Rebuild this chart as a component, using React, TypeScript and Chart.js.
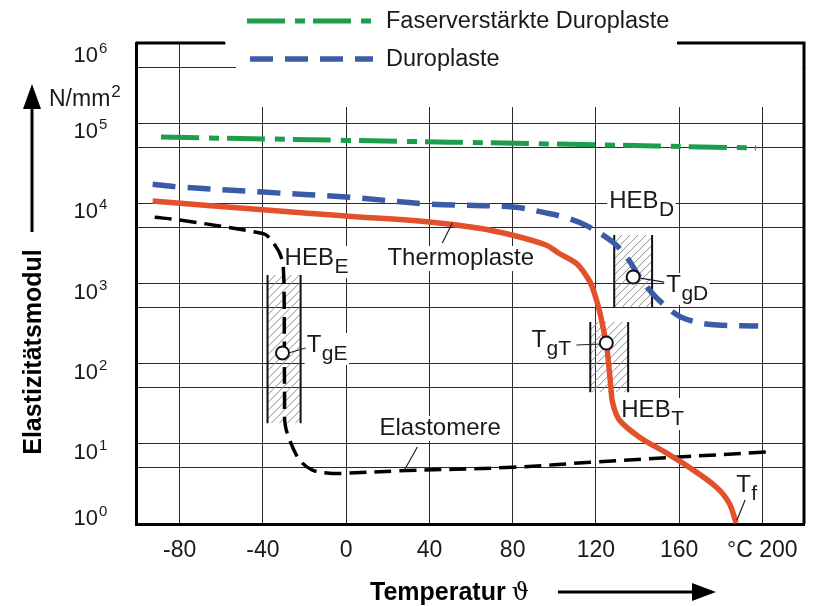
import React, { useEffect, useRef } from 'react';
import { Chart, registerables } from 'chart.js';

Chart.register(...registerables);

const FONT = '"Liberation Sans", Arial, Helvetica, sans-serif';

// ---------- axes ----------
const X_MIN = -101;
const X_MAX = 220;
const Y_MIN = 1;
const Y_MAX = 1e6;
const xTickValues = [-80, -40, 0, 40, 80, 120, 160, 200];
const xTickLabels = ['-80', '-40', '0', '40', '80', '120', '160', '°C 200'];
const yGridValues = [1, 5, 10, 50, 100, 500, 1e3, 5e3, 1e4, 5e4, 1e5, 5e5, 1e6];
const yLabelValues = [1, 10, 100, 1e3, 1e4, 1e5, 1e6];
const yLabelExponents = ['0', '1', '2', '3', '4', '5', '6'];

// ---------- series ----------
const seriesNames = ['Faserverstärkte Duroplaste', 'Duroplaste', 'Thermoplaste', 'Elastomere'];

const fdTemp = [-89, 0, 100, 197];
const fdModulus = [67000, 61000, 55000, 49000];

const duroTemp = [-93, -80, -40, 0, 40, 80, 96, 106, 116, 128, 135, 141, 147, 154, 161, 174, 198];
const duroModulus = [17300, 16000, 13800, 12000, 9800, 9000, 7600, 6600, 5200, 3300, 2100, 1200, 760, 510, 380, 310, 295];

const thermoTemp = [-93, -40, 0, 40, 64, 80, 96, 102, 110.6, 115.8, 118.2, 121.6, 124, 125.4, 127.2, 128, 131.2, 140.8, 153.8, 164.8, 177.8, 184, 187.4];
const thermoModulus = [10700, 8300, 6950, 5850, 4900, 4000, 3020, 2400, 1780, 1200, 910, 465, 240, 148, 51, 33, 20, 12.2, 7.7, 5.1, 2.9, 1.83, 1.03];

const elastTemp = [-92, -80, -40, -36.8, -34, -32, -30.6, -30.1, -29.8, -29.7, -29.6, -29.4, -27.2, -22.4, -16.2, -8, 0, 25, 80, 120, 160, 202];
const elastModulus = [6700, 6200, 4200, 3700, 2950, 2400, 1850, 1400, 620, 136, 35, 18, 11.2, 6.3, 4.7, 4.3, 4.3, 4.6, 5.1, 5.95, 6.85, 7.9];

// ---------- annotations (data coordinates) ----------
const hatchTempFrom = [-37.8, 128.8, 117.3];
const hatchTempTo = [-21.9, 147, 135.5];
const hatchModLow = [18, 510, 44];
const hatchModHigh = [1280, 4030, 331];

const tgTemp = [-30.6, 137.9, 125.0];
const tgModulus = [136, 1205, 181];

const labelMain = ['HEB', 'Thermoplaste', 'T', 'HEB', 'T', 'T', 'HEB', 'Elastomere', 'T'];
const labelSub = ['E', '', 'gE', 'D', 'gD', 'gT', 'T', '', 'f'];
const labelTemp = [-29.6, 19.8, -19.0, 126.4, 153.8, 89, 132.2, 16, 187.4];
const labelModulus = [1700, 1700, 140, 8730, 783, 161, 21.6, 12.9, 2.5];
const labelMasked = [true, true, true, true, true, false, true, true, false];

// leader lines: [t1, m1, t2, m2]
const leaders = [
  [46.2, 3200, 51.0, 5690],
  [28, 4.72, 34.2, 9.13],
  [187.8, 1.12, 191.7, 1.99],
  [-27.7, 136, -19.5, 157],
  [141.3, 1170, 152.8, 1043],
  [110.6, 171, 122.6, 176],
];

const COLORS = ['#1c9e4a', '#3a5ca6', '#e2502c', '#000000'];
const DASHES: number[][] = [[38, 10, 10, 8], [23, 12], [], [17, 8]];
const WIDTHS = [5, 5.5, 5.5, 3.5];

const MAIN_SIZE = 24;
const SUB_SIZE = 21;
const SUB_DROP = 8;

const toPoints = (xs: number[], ys: number[]) => xs.map((x, i) => ({ x, y: ys[i] }));

const annotationPlugin = {
  id: 'annotations',
  beforeDatasetsDraw(chart: any) {
    const { ctx, chartArea: ca, scales } = chart;
    const xs = scales.x;
    const ys = scales.y;
    ctx.save();
    // white area under the legend (breaks grid lines and frame)
    ctx.fillStyle = '#ffffff';
    ctx.fillRect(226, ca.top - 3, ca.right - 1.5 - 226, 6);
    ctx.fillRect(236, ca.top + 2, ca.right - 1.5 - 236, 62);

    // label masks
    labelMain.forEach((m, i) => {
      if (!labelMasked[i]) return;
      const X = xs.getPixelForValue(labelTemp[i]);
      const Y = ys.getPixelForValue(labelModulus[i]);
      ctx.font = `${MAIN_SIZE}px ${FONT}`;
      const w1 = ctx.measureText(m).width;
      ctx.font = `${SUB_SIZE}px ${FONT}`;
      const w2 = labelSub[i] ? ctx.measureText(labelSub[i]).width : 0;
      ctx.fillRect(X - 2, Y - 19, w1 + w2 + 4, 19 + (labelSub[i] ? SUB_DROP + 5 : 6));
    });

    // hatched zones
    hatchTempFrom.forEach((t0, i) => {
      const l = xs.getPixelForValue(t0);
      const r = xs.getPixelForValue(hatchTempTo[i]);
      const t = ys.getPixelForValue(hatchModHigh[i]);
      const b = ys.getPixelForValue(hatchModLow[i]);
      ctx.save();
      ctx.beginPath();
      ctx.rect(l, t, r - l, b - t);
      ctx.clip();
      ctx.beginPath();
      ctx.strokeStyle = '#8c8c8c';
      ctx.lineWidth = 1;
      const h = b - t;
      for (let k = l - h; k < r + 10; k += 8) {
        ctx.moveTo(k, b);
        ctx.lineTo(k + h, t);
      }
      ctx.stroke();
      ctx.restore();
      ctx.beginPath();
      ctx.strokeStyle = '#111';
      ctx.lineWidth = 2;
      ctx.moveTo(l, t);
      ctx.lineTo(l, b);
      ctx.moveTo(r, t);
      ctx.lineTo(r, b);
      ctx.stroke();
    });
    ctx.restore();
  },
  afterDatasetsDraw(chart: any) {
    const { ctx, chartArea: ca, scales } = chart;
    const xs = scales.x;
    const ys = scales.y;
    ctx.save();

    // frame: right side and the two top segments
    ctx.strokeStyle = '#000';
    ctx.lineWidth = 3;
    ctx.beginPath();
    ctx.moveTo(ca.left, ca.top);
    ctx.lineTo(225, ca.top);
    ctx.moveTo(677, ca.top);
    ctx.lineTo(ca.right, ca.top);
    ctx.lineTo(ca.right, ca.bottom);
    ctx.stroke();

    // leader lines
    ctx.strokeStyle = '#222';
    ctx.lineWidth = 1.2;
    ctx.beginPath();
    leaders.forEach(([t1, m1, t2, m2]) => {
      ctx.moveTo(xs.getPixelForValue(t1), ys.getPixelForValue(m1));
      ctx.lineTo(xs.getPixelForValue(t2), ys.getPixelForValue(m2));
    });
    ctx.stroke();

    // Tg circles
    tgTemp.forEach((t, i) => {
      const X = xs.getPixelForValue(t);
      const Y = ys.getPixelForValue(tgModulus[i]);
      ctx.beginPath();
      ctx.arc(X, Y, 6.5, 0, Math.PI * 2);
      ctx.fillStyle = '#fff';
      ctx.fill();
      ctx.lineWidth = 2;
      ctx.strokeStyle = '#111';
      ctx.stroke();
    });

    // labels
    ctx.fillStyle = '#1a1a1a';
    ctx.textBaseline = 'alphabetic';
    ctx.textAlign = 'left';
    labelMain.forEach((m, i) => {
      const X = xs.getPixelForValue(labelTemp[i]);
      const Y = ys.getPixelForValue(labelModulus[i]);
      ctx.font = `${MAIN_SIZE}px ${FONT}`;
      ctx.fillText(m, X, Y);
      const w1 = ctx.measureText(m).width;
      if (labelSub[i]) {
        ctx.font = `${SUB_SIZE}px ${FONT}`;
        ctx.fillText(labelSub[i], X + w1 + 0.5, Y + SUB_DROP);
      }
    });

    // y tick labels (10^n)
    yLabelValues.forEach((v, i) => {
      const p = ys.getPixelForValue(v);
      const c = Math.min(Math.max(p + 7, ca.top + 11), ca.bottom - 7);
      const right = ca.left - 38;
      ctx.font = `22px ${FONT}`;
      ctx.textAlign = 'right';
      ctx.fillText('10', right, c + 8);
      ctx.font = `15px ${FONT}`;
      ctx.textAlign = 'left';
      ctx.fillText(yLabelExponents[i], right + 1, c - 1);
    });

    // unit
    ctx.textAlign = 'left';
    ctx.font = `23px ${FONT}`;
    ctx.fillText('N/mm', 49, 106);
    const wu = ctx.measureText('N/mm').width;
    ctx.font = `17px ${FONT}`;
    ctx.fillText('2', 49 + wu + 1, 97);

    // y axis title + arrow
    ctx.save();
    ctx.translate(33, 352);
    ctx.rotate(-Math.PI / 2);
    ctx.font = `bold 25px ${FONT}`;
    ctx.textAlign = 'center';
    ctx.textBaseline = 'middle';
    ctx.fillStyle = '#000';
    ctx.fillText('Elastizitätsmodul', 0, 1);
    ctx.restore();
    ctx.strokeStyle = '#000';
    ctx.fillStyle = '#000';
    ctx.lineWidth = 3;
    ctx.beginPath();
    ctx.moveTo(32, 232);
    ctx.lineTo(32, 105);
    ctx.stroke();
    ctx.beginPath();
    ctx.moveTo(32, 84);
    ctx.lineTo(23, 109);
    ctx.lineTo(41, 109);
    ctx.closePath();
    ctx.fill();

    // x axis title + arrow
    ctx.font = `bold 25px ${FONT}`;
    ctx.textAlign = 'left';
    ctx.textBaseline = 'alphabetic';
    ctx.fillText('Temperatur', 370, 600);
    const wt = ctx.measureText('Temperatur').width;
    ctx.font = `24px "DejaVu Serif", "Liberation Serif", serif`;
    ctx.fillText('ϑ', 370 + wt + 6, 600);
    ctx.beginPath();
    ctx.moveTo(558, 592);
    ctx.lineTo(695, 592);
    ctx.stroke();
    ctx.beginPath();
    ctx.moveTo(716, 592);
    ctx.lineTo(692, 583);
    ctx.lineTo(692, 601);
    ctx.closePath();
    ctx.fill();

    // legend
    const legendRows = [
      { ds: 0, y: 21, x0: 247, x1: 373 },
      { ds: 1, y: 59, x0: 250, x1: 373 },
    ];
    legendRows.forEach((row) => {
      const ds = chart.data.datasets[row.ds];
      ctx.save();
      ctx.strokeStyle = ds.borderColor;
      ctx.lineWidth = ds.borderWidth;
      ctx.setLineDash(ds.borderDash || []);
      ctx.beginPath();
      ctx.moveTo(row.x0, row.y);
      ctx.lineTo(row.x1, row.y);
      ctx.stroke();
      ctx.restore();
      ctx.fillStyle = '#1a1a1a';
      ctx.font = `23.5px ${FONT}`;
      ctx.textBaseline = 'middle';
      ctx.textAlign = 'left';
      ctx.fillText(ds.label, 386, row.y + 1);
    });

    ctx.restore();
  },
};

export default function App() {
  const ref = useRef<HTMLCanvasElement>(null);
  useEffect(() => {
    const canvas = ref.current;
    if (!canvas) return;
    const seriesX = [fdTemp, duroTemp, thermoTemp, elastTemp];
    const seriesY = [fdModulus, duroModulus, thermoModulus, elastModulus];
    const chart = new Chart(canvas, {
      type: 'line',
      data: {
        datasets: seriesNames.map((name, i) => ({
          label: name,
          data: toPoints(seriesX[i], seriesY[i]),
          borderColor: COLORS[i],
          backgroundColor: COLORS[i],
          borderWidth: WIDTHS[i],
          borderDash: DASHES[i],
          pointRadius: 0,
          tension: 0.35,
          fill: false,
        })),
      },
      options: {
        responsive: false,
        animation: false,
        layout: { padding: { left: 136, top: 43, right: 9, bottom: 0 } },
        plugins: { legend: { display: false }, tooltip: { enabled: false } },
        scales: {
          x: {
            type: 'linear',
            min: X_MIN,
            max: X_MAX,
            afterBuildTicks: (s: any) => {
              s.ticks = xTickValues.map((v) => ({ value: v }));
            },
            afterFit: (s: any) => {
              s.height = 82;
            },
            grid: { color: '#2a2a2a', lineWidth: 1, drawTicks: false },
            border: { display: true, color: '#000', width: 3 },
            ticks: {
              autoSkip: false,
              maxRotation: 0,
              padding: 13,
              color: '#1a1a1a',
              font: { family: FONT, size: 23 },
              callback: (v: any) => {
                const idx = xTickValues.indexOf(Number(v));
                return idx >= 0 ? xTickLabels[idx] : '';
              },
            },
          },
          y: {
            type: 'logarithmic',
            min: Y_MIN,
            max: Y_MAX,
            afterBuildTicks: (s: any) => {
              s.ticks = yGridValues.map((v) => ({ value: v }));
            },
            afterFit: (s: any) => {
              s.width = 0;
            },
            grid: { color: '#2a2a2a', lineWidth: 1, drawTicks: false },
            border: { display: true, color: '#000', width: 3 },
            ticks: { display: false },
          },
        },
      },
      plugins: [annotationPlugin],
    } as any);
    return () => chart.destroy();
  }, []);
  return (
    <div style={{ position: 'fixed', left: 0, top: 0, width: 813, height: 606, background: '#fff' }}>
      <canvas ref={ref} width={813} height={606} style={{ width: 813, height: 606, display: 'block' }} />
    </div>
  );
}
